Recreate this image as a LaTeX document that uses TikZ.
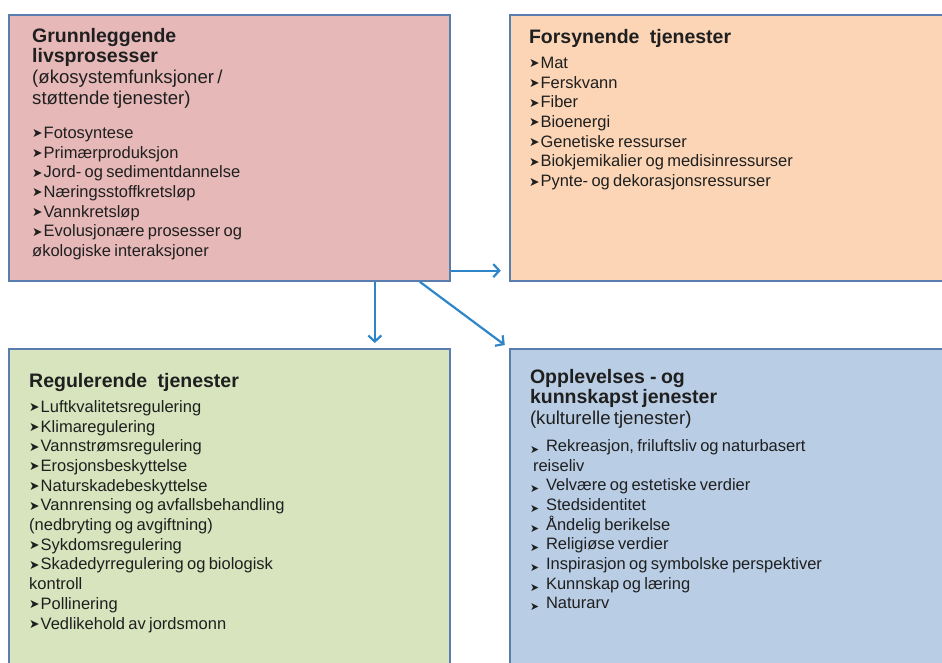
\documentclass[tikz,border=0pt]{standalone}
\usepackage{fontspec}
\usepackage{graphicx}
\setmainfont{Liberation Sans}
\newfontfamily\symfont{DejaVu Sans}
\usetikzlibrary{positioning,arrows.meta}

\definecolor{boxline}{HTML}{5A7DB0}
\definecolor{arrowblue}{HTML}{2E86C9}
\definecolor{grunnfill}{HTML}{E6B9B8}
\definecolor{forsynfill}{HTML}{FBD5B5}
\definecolor{regulfill}{HTML}{D7E4BD}
\definecolor{opplevfill}{HTML}{B9CDE5}

\newcommand{\pil}{\makebox[11.5pt][l]{\raisebox{0.5pt}{\resizebox{10.5pt}{8pt}{\symfont ➤}}}}
\newcommand{\lavpil}{\makebox[10pt][l]{\raisebox{-2pt}{\resizebox{9pt}{7pt}{\symfont ➤}}}}
\newcommand{\tittel}{\bfseries\fontsize{19.5}{20}\selectfont}
\newcommand{\under}{\mdseries\fontsize{18.6}{21}\selectfont}
\newcommand{\punkt}{\mdseries\fontsize{16.5}{19.7}\selectfont}

\tikzset{
  tjeneste/.style={draw=boxline, line width=1.8pt, rectangle, minimum width=441pt, minimum height=266pt, inner sep=0pt},
  liste/.style={align=left, text width=420pt, inner sep=0pt, text=black!88},
  pilstrek/.style={->, arrowblue, line width=2.2pt},
}

\begin{document}
\begin{tikzpicture}[x=1pt, y=-1pt, >={Straight Barb[length=6pt,width=13pt]}, node distance=20pt]
    \useasboundingbox (0,0) rectangle (942,662);
    \clip (0,0) rectangle (942,662);

    % Boxes
    \node (Grunn) [tjeneste, fill=grunnfill, anchor=north west] at (8,14) {};
    \node (Forsyn) [tjeneste, fill=forsynfill, right=58pt of Grunn] {};
    \node (Regul) [tjeneste, fill=regulfill, minimum height=340pt, anchor=north west] at (8,348) {};
    \node (Opplev) [tjeneste, fill=opplevfill, minimum height=340pt, right=58pt of Regul] {};

    % Texts
    \node (GrunnTekst) [liste, below right=14pt and 24pt of Grunn.north west, anchor=north west] {%
      \tittel Grunnleggende\par livsprosesser\par
      \under (økosystemfunksjoner /\par støttende tjenester)\par
      \vspace{14.3pt}\punkt
      \pil Fotosyntese\par
      \pil Primærproduksjon\par
      \pil Jord- og sedimentdannelse\par
      \pil Næringsstoffkretsløp\par
      \pil Vannkretsløp\par
      \pil Evolusjonære prosesser og\par
      økologiske interaksjoner\par};
    \node (ForsynTekst) [liste, below right=15pt and 20pt of Forsyn.north west, anchor=north west] {%
      \tittel Forsynende\hspace{7pt} tjenester\par
      \vspace{5.3pt}\punkt
      \pil Mat\par
      \pil Ferskvann\par
      \pil Fiber\par
      \pil Bioenergi\par
      \pil Genetiske ressurser\par
      \pil Biokjemikalier og medisinressurser\par
      \pil Pynte- og dekorasjonsressurser\par};
    \node (RegulTekst) [liste, below right=25pt and 21pt of Regul.north west, anchor=north west] {%
      \tittel Regulerende\hspace{7pt} tjenester\par
      \vspace{5.3pt}\punkt
      \pil Luftkvalitetsregulering\par
      \pil Klimaregulering\par
      \pil Vannstrømsregulering\par
      \pil Erosjonsbeskyttelse\par
      \pil Naturskadebeskyttelse\par
      \pil Vannrensing og avfallsbehandling\par
      (nedbryting og avgiftning)\par
      \pil Sykdomsregulering\par
      \pil Skadedyrregulering og biologisk\par
      kontroll\par
      \pil Pollinering\par
      \pil Vedlikehold av jordsmonn\par};
    \node (OpplevTekst) [liste, below right=21pt and 21pt of Opplev.north west, anchor=north west] {%
      \tittel Opplevelses\hspace{2pt} -\hspace{1pt} og\par kunnskapst\kern4pt jenester\par
      \under (kulturelle tjenester)\par
      \vspace{7.3pt}\punkt
      \lavpil\hspace{6pt}Rekreasjon, friluftsliv og naturbasert\par
      \hspace{3pt}reiseliv\par
      \lavpil\hspace{6pt}Velvære og estetiske verdier\par
      \lavpil\hspace{6pt}Stedsidentitet\par
      \lavpil\hspace{6pt}Åndelig berikelse\par
      \lavpil\hspace{6pt}Religiøse verdier\par
      \lavpil\hspace{6pt}Inspirasjon og symbolske perspektiver\par
      \lavpil\hspace{6pt}Kunnskap og læring\par
      \lavpil\hspace{6pt}Naturarv\par};

    % Arrows
    \draw[pilstrek, shorten >=8pt] (Grunn.-29) -- (Grunn.-29 -| Forsyn.west);
    \draw[pilstrek, shorten >=5pt] ([xshift=-76pt]Grunn.south east) -- ([xshift=-76pt]Grunn.south east |- Regul.north);
    \draw[pilstrek, shorten >=5pt] ([xshift=-31pt]Grunn.south east) -- (Opplev.north west);
\end{tikzpicture}
\end{document}
